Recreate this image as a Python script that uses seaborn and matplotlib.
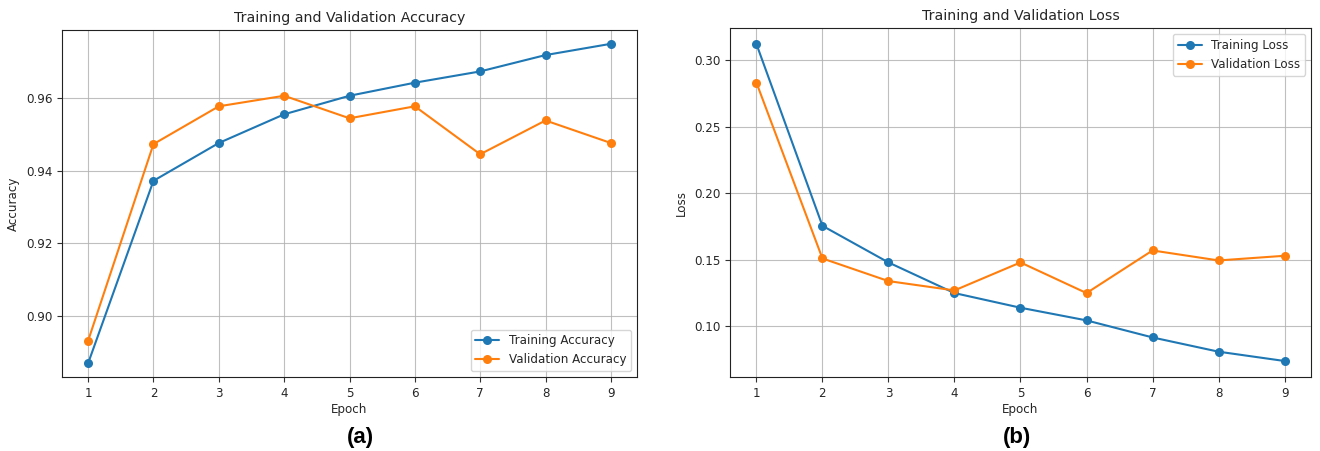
import matplotlib
matplotlib.use("Agg")
import matplotlib.pyplot as plt
import seaborn as sns
import pandas as pd

epochs = [1, 2, 3, 4, 5, 6, 7, 8, 9]
train_acc = [0.887, 0.9372, 0.9476, 0.9555, 0.9606, 0.9642, 0.9673, 0.9718, 0.9749]
val_acc = [0.8932, 0.9473, 0.9577, 0.9606, 0.9544, 0.9577, 0.9445, 0.9538, 0.9476]
train_loss = [0.312, 0.1755, 0.148, 0.125, 0.114, 0.1045, 0.0917, 0.081, 0.074]
val_loss = [0.283, 0.151, 0.134, 0.127, 0.148, 0.125, 0.157, 0.1495, 0.153]

sns.set_theme(style="ticks", palette="tab10")
plt.rcParams['font.family'] = ['DejaVu Sans']

fig = plt.figure(figsize=(13.2, 4.51), dpi=100)
ax1 = fig.add_axes([62/1320, 1-377/451, (637-62)/1320, (377-30)/451])
ax2 = fig.add_axes([730/1320, 1-377/451, (1311-730)/1320, (377-28)/451])

def draw(ax, tr, va, trl, val, title, ylabel, loc):
    df = pd.DataFrame({"Epoch": epochs * 2,
                       "v": tr + va,
                       "s": [trl] * len(epochs) + [val] * len(epochs)})
    sns.lineplot(data=df, x="Epoch", y="v", hue="s", marker="o", ax=ax,
                 markersize=6.5, markeredgewidth=0, linewidth=1.5,
                 palette=["#1f77b4", "#ff7f0e"])
    ax.set_title(title, fontsize=10.2, pad=6)
    ax.set_xlabel("Epoch", fontsize=8.6, labelpad=2)
    ax.set_ylabel(ylabel, fontsize=8.6)
    ax.set_xticks(epochs)
    ax.tick_params(labelsize=8.6, length=3.5, width=0.8, color="#333333")
    ax.grid(True, color="#b0b0b0", linewidth=0.8, alpha=0.8)
    for s in ax.spines.values():
        s.set_visible(True)
        s.set_linewidth(0.8)
        s.set_color("#222222")
    leg = ax.legend(title=None, loc=loc, fontsize=8.6, frameon=True)
    leg.get_frame().set_edgecolor("#cccccc")

draw(ax1, train_acc, val_acc, "Training Accuracy", "Validation Accuracy",
     "Training and Validation Accuracy", "Accuracy", "lower right")
ax1.set_yticks([0.90, 0.92, 0.94, 0.96])
ax1.set_xlim(0.6, 9.4)
ax1.set_ylim(0.8832, 0.9787)

draw(ax2, train_loss, val_loss, "Training Loss", "Validation Loss",
     "Training and Validation Loss", "Loss", "upper right")
ax2.set_yticks([0.10, 0.15, 0.20, 0.25, 0.30])
ax2.set_xlim(0.6, 9.4)
ax2.set_ylim(0.062, 0.324)

fig.text(360/1320, 1-437/451, "(a)", ha="center", va="center", color="black",
         fontsize=16, fontweight="bold", family="Liberation Sans")
fig.text(1017/1320, 1-437/451, "(b)", ha="center", va="center", color="black",
         fontsize=16, fontweight="bold", family="Liberation Sans")

fig.savefig("out.png", dpi=100, facecolor="white")
